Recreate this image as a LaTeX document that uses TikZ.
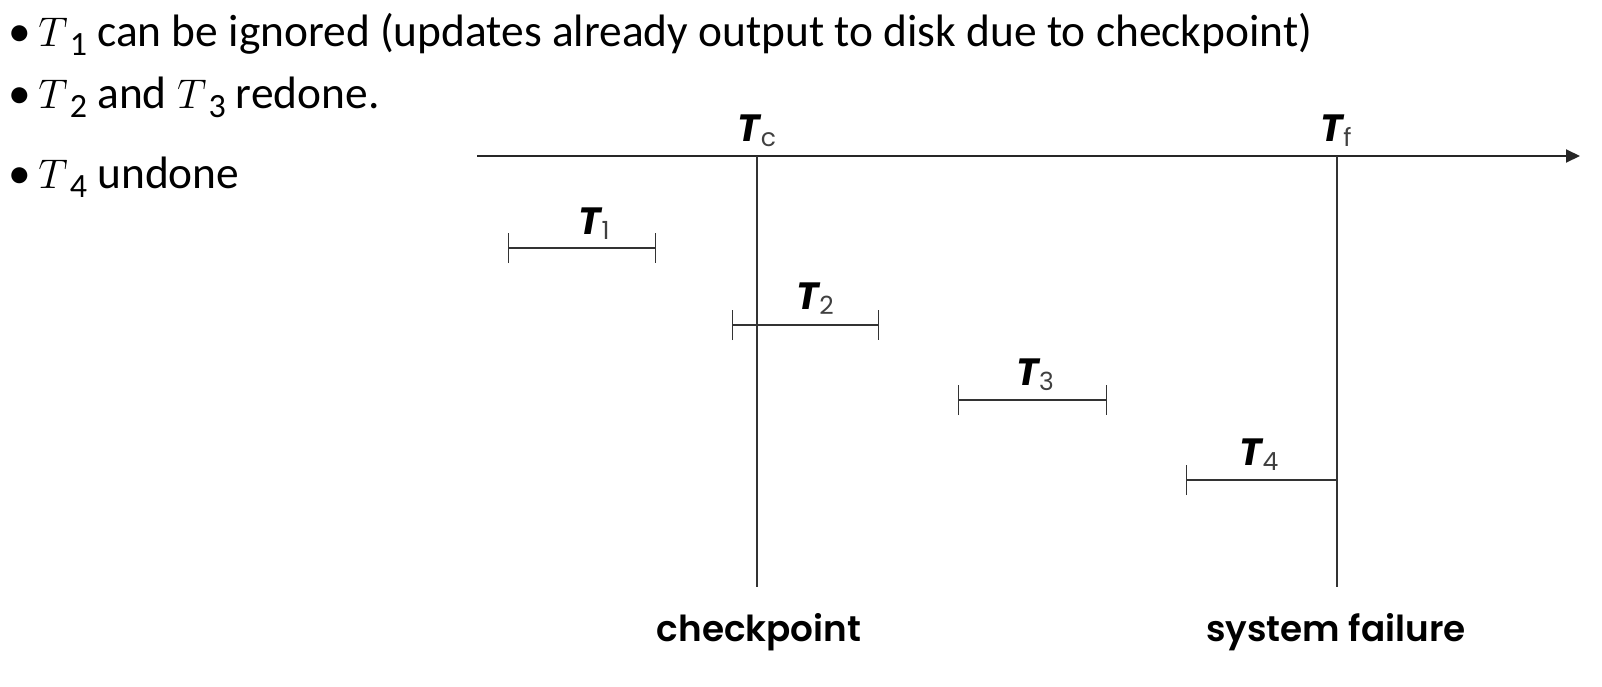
\documentclass[tikz,border=0pt]{standalone}
\usepackage{fontspec}
\setmainfont{Carlito}
\newfontfamily\lab{Poppins}[BoldFont={Poppins SemiBold}, BoldItalicFont={Poppins Bold Italic}]
\usetikzlibrary{arrows.meta}
\newcommand\MT[1]{$T$\kern1pt\raisebox{-4.5pt}{\fontsize{17}{19}\selectfont$\mathrm{#1}$}}
\newcommand\TT[1]{{\bfseries\itshape T}\kern0.3pt\raisebox{-2.5pt}{\fontsize{12.5}{14}\selectfont\color{black!75}#1}}
\begin{document}
\begin{tikzpicture}[x=0.5pt,y=-0.5pt,
  ax/.style={line width=1pt, draw=black!85},
  vline/.style={line width=0.7pt, draw=black!80},
  bar/.style={line width=0.7pt, draw=black!80},
  tlab/.style={font=\lab\fontsize{19}{22}\selectfont, inner sep=0pt},
  caplab/.style={font=\lab\bfseries\fontsize{17.9}{21}\selectfont, inner sep=0pt},
  bul/.style={font=\fontsize{22.7}{27}\selectfont, anchor=base west, inner sep=0pt}]
\useasboundingbox (0,0) rectangle (1602,686);
% bullets
\node[bul] (b1) at (8,46) {\makebox[15pt][l]{•}\MT{1} can be ignored (updates already output to disk due to checkpoint)};
\node[bul] (b2) at (8,108) {\makebox[15pt][l]{•}\MT{2} and \MT{3} redone.};
\node[bul] (b3) at (8,188) {\makebox[15pt][l]{•}\MT{4} undone};
% axis
\coordinate (axs) at (477,156);
\coordinate (axe) at (1580,156);
\draw[ax,-{Triangle[length=7pt,width=6.5pt]}] (axs) -- (axe);
% vertical lines
\coordinate (cT) at (757,156); \coordinate (cB) at (757,587);
\coordinate (fT) at (1337,156); \coordinate (fB) at (1337,587);
\draw[vline] (cT) -- (cB);
\draw[vline] (fT) -- (fB);
\node[tlab] (tc) at (757,131) {\TT{c}};
\node[tlab] (tf) at (1336,131) {\TT{f}};
\node[caplab] (ck) at (759,632) {checkpoint};
\node[caplab] (sf) at (1336,632) {system failure};
% transactions
\coordinate (a1) at (508,248); \coordinate (e1) at (656,248);
\coordinate (a2) at (732,325); \coordinate (e2) at (879,325);
\coordinate (a3) at (958,400); \coordinate (e3) at (1107,400);
\coordinate (a4) at (1186,480); \coordinate (e4) at (1337,480);
\draw[bar,{Bar[width=15pt]}-{Bar[width=15pt]}] (a1) -- (e1);
\draw[bar,{Bar[width=15pt]}-{Bar[width=15pt]}] (a2) -- (e2);
\draw[bar,{Bar[width=15pt]}-{Bar[width=15pt]}] (a3) -- (e3);
\draw[bar,{Bar[width=15pt]}-] (a4) -- (e4);
\node[tlab] (t1) at (594,224) {\TT{1}};
\node[tlab] (t2) at (815,299) {\TT{2}};
\node[tlab] (t3) at (1035,375) {\TT{3}};
\node[tlab] (t4) at (1259,455) {\TT{4}};
\end{tikzpicture}
\end{document}
